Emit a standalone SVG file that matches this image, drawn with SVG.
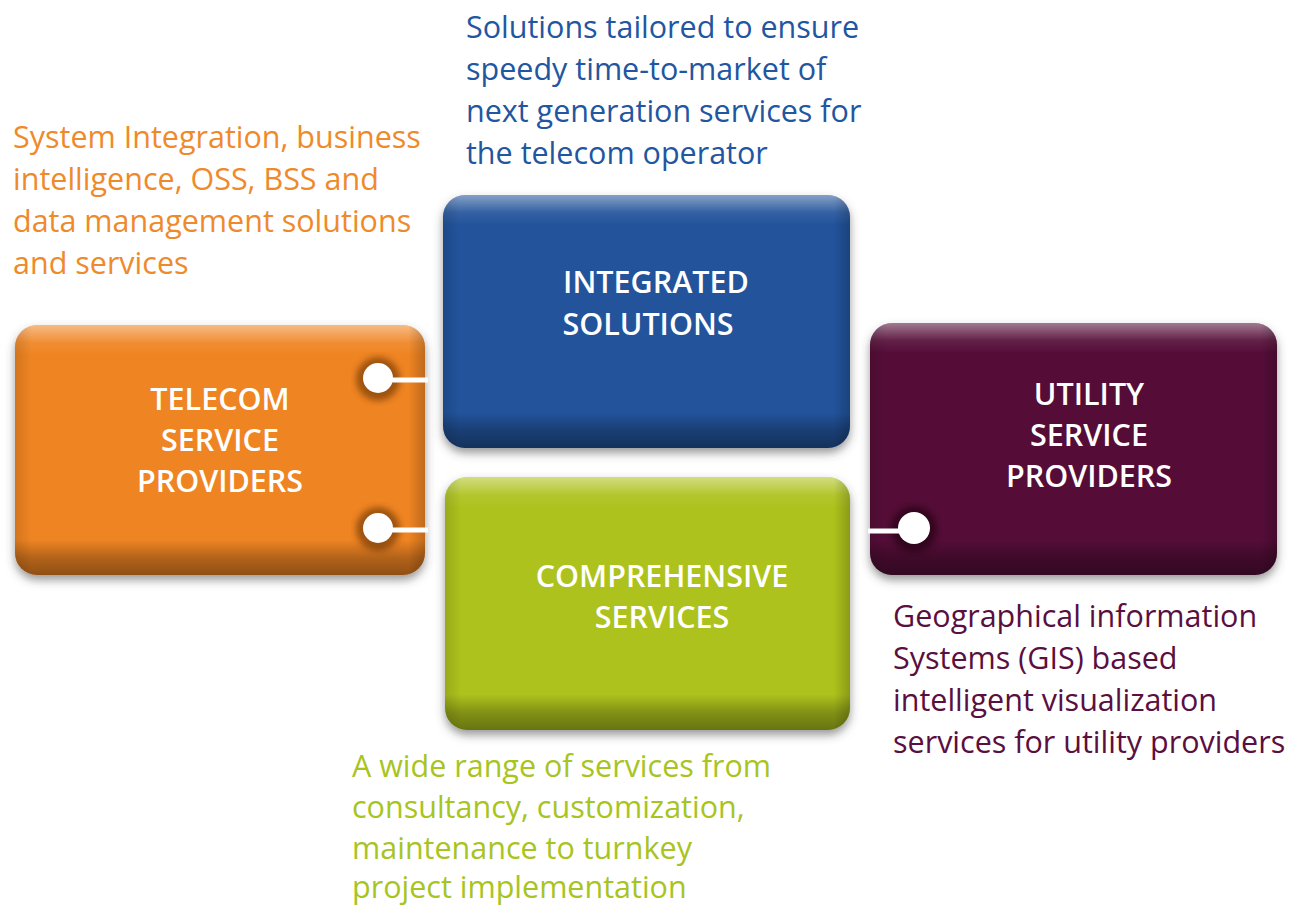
<svg xmlns="http://www.w3.org/2000/svg" width="1304" height="905" viewBox="0 0 1304 905">
<style>
.lbl{font-family:"Open Sans","Liberation Sans",sans-serif;font-weight:600;font-size:30.5px;fill:#ffffff;text-anchor:middle}
.desc{font-family:"Open Sans","Liberation Sans",sans-serif;font-size:30.5px}
.or{fill:#EF8A2B}.bl{fill:#2256A0}.gr{fill:#A8C41E}.pu{fill:#5A0F40}
</style>
<defs>
<filter id="sh" x="-10%" y="-10%" width="120%" height="130%">
<feDropShadow dx="0" dy="5" stdDeviation="5" flood-color="#444" flood-opacity="0.55"/>
</filter>
<filter id="blur3"><feGaussianBlur stdDeviation="3"/></filter>
<linearGradient id="bevV" x1="0" y1="0" x2="0" y2="1">
<stop offset="0" stop-color="#fff" stop-opacity="0.45"/>
<stop offset="0.07" stop-color="#fff" stop-opacity="0.08"/>
<stop offset="0.12" stop-color="#fff" stop-opacity="0"/>
<stop offset="0.86" stop-color="#000" stop-opacity="0"/>
<stop offset="0.93" stop-color="#000" stop-opacity="0.25"/>
<stop offset="1" stop-color="#000" stop-opacity="0.4"/>
</linearGradient>
<linearGradient id="bevH" x1="0" y1="0" x2="1" y2="0">
<stop offset="0" stop-color="#000" stop-opacity="0.12"/>
<stop offset="0.04" stop-color="#000" stop-opacity="0"/>
<stop offset="0.96" stop-color="#000" stop-opacity="0"/>
<stop offset="1" stop-color="#000" stop-opacity="0.2"/>
</linearGradient>
</defs>
<rect width="1304" height="905" fill="#ffffff"/>

<g id="node-telecom">
<rect x="15" y="325" width="410" height="250" rx="22" fill="#EF8422" filter="url(#sh)"/>
<rect x="15" y="325" width="410" height="250" rx="22" fill="url(#bevV)"/>
<rect x="15" y="325" width="410" height="250" rx="22" fill="url(#bevH)"/>
<text class="lbl" x="220" y="410">TELECOM</text>
<text class="lbl" x="220" y="451">SERVICE</text>
<text class="lbl" x="220" y="492">PROVIDERS</text>
</g>

<g id="node-integrated">
<rect x="443" y="195" width="407" height="253" rx="22" fill="#22539B" filter="url(#sh)"/>
<rect x="443" y="195" width="407" height="253" rx="22" fill="url(#bevV)"/>
<rect x="443" y="195" width="407" height="253" rx="22" fill="url(#bevH)"/>
<text class="lbl" x="656" y="293">INTEGRATED</text>
<text class="lbl" x="648" y="335">SOLUTIONS</text>
</g>

<g id="node-comprehensive">
<rect x="445" y="477" width="405" height="253" rx="22" fill="#ADC21A" filter="url(#sh)"/>
<rect x="445" y="477" width="405" height="253" rx="22" fill="url(#bevV)"/>
<rect x="445" y="477" width="405" height="253" rx="22" fill="url(#bevH)"/>
<text class="lbl" x="662" y="587">COMPREHENSIVE</text>
<text class="lbl" x="662" y="628">SERVICES</text>
</g>

<g id="node-utility">
<rect x="870" y="323" width="407" height="252" rx="22" fill="#540B39" filter="url(#sh)"/>
<rect x="870" y="323" width="407" height="252" rx="22" fill="url(#bevV)"/>
<rect x="870" y="323" width="407" height="252" rx="22" fill="url(#bevH)"/>
<text class="lbl" x="1089" y="405">UTILITY</text>
<text class="lbl" x="1089" y="446">SERVICE</text>
<text class="lbl" x="1089" y="487">PROVIDERS</text>
</g>

<g id="connectors">
<circle cx="378" cy="379" r="22" fill="#5a2a05" opacity="0.55" filter="url(#blur3)"/>
<line x1="378" y1="380" x2="428" y2="380" stroke="#ffffff" stroke-width="5"/>
<circle cx="378" cy="378" r="15" fill="#ffffff"/>
<circle cx="378" cy="529" r="22" fill="#5a2a05" opacity="0.55" filter="url(#blur3)"/>
<line x1="378" y1="530" x2="428" y2="530" stroke="#ffffff" stroke-width="5"/>
<circle cx="378" cy="528" r="15" fill="#ffffff"/>
<circle cx="914" cy="529" r="23" fill="#1a0010" opacity="0.6" filter="url(#blur3)"/>
<line x1="868" y1="531" x2="914" y2="531" stroke="#ffffff" stroke-width="5"/>
<circle cx="914" cy="528" r="16" fill="#ffffff"/>
</g>

<g id="desc-integrated" class="desc bl">
<text x="466" y="38">Solutions tailored to ensure</text>
<text x="466" y="80">speedy time-to-market of</text>
<text x="466" y="122">next generation services for</text>
<text x="466" y="164">the telecom operator</text>
</g>
<g id="desc-telecom" class="desc or">
<text x="13" y="148">System Integration, business</text>
<text x="13" y="190">intelligence, OSS, BSS and</text>
<text x="13" y="232">data management solutions</text>
<text x="13" y="274">and services</text>
</g>
<g id="desc-utility" class="desc pu">
<text x="893" y="627">Geographical information</text>
<text x="893" y="669">Systems (GIS) based</text>
<text x="893" y="711">intelligent visualization</text>
<text x="893" y="753">services for utility providers</text>
</g>
<g id="desc-comprehensive" class="desc gr">
<text x="352" y="777">A wide range of services from</text>
<text x="352" y="818">consultancy, customization,</text>
<text x="352" y="859">maintenance to turnkey</text>
<text x="352" y="898">project implementation</text>
</g>
</svg>
